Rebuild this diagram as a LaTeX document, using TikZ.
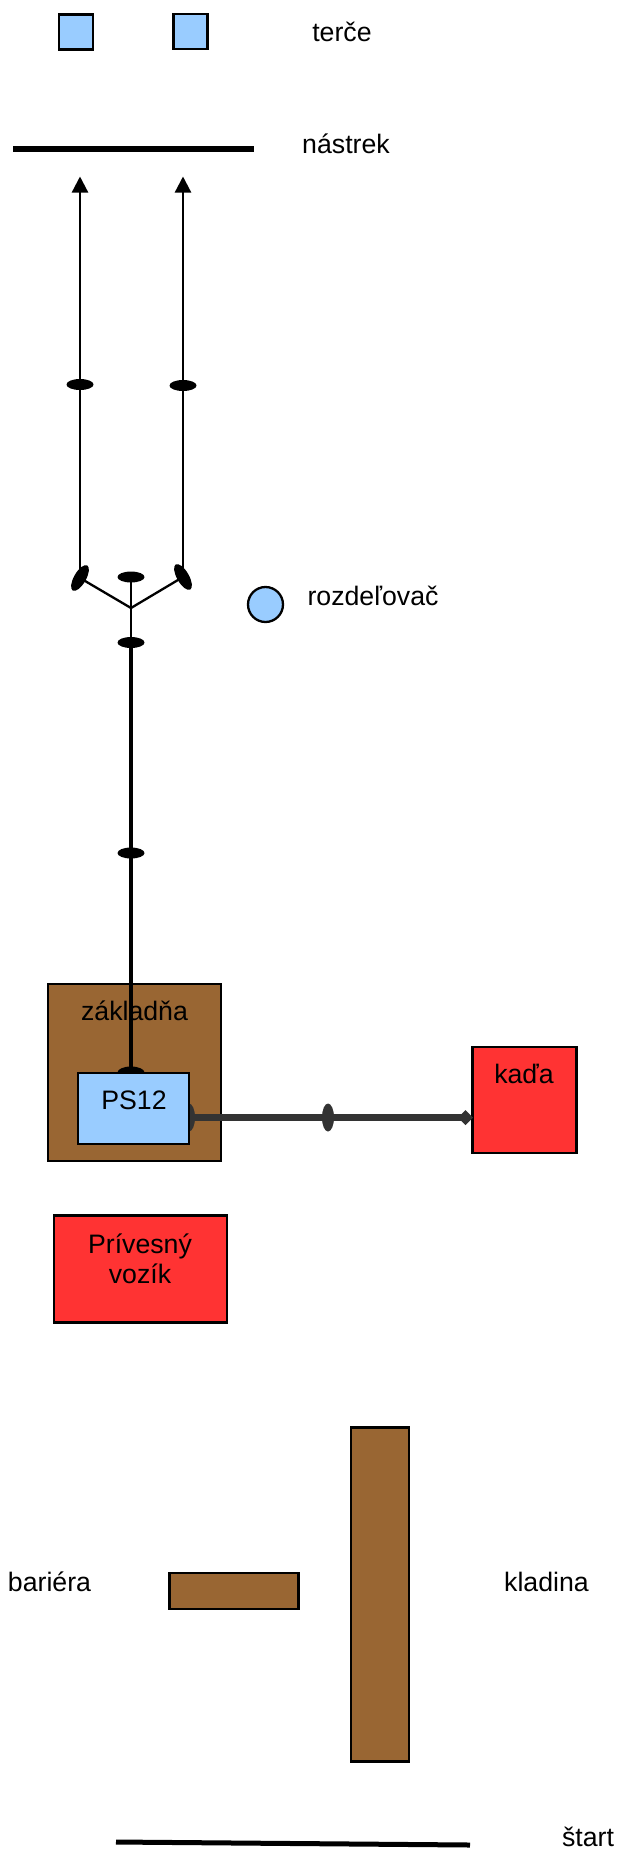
\documentclass[tikz,border=0pt]{standalone}
\usepackage{fontspec}
\setmainfont{Liberation Sans}
\usetikzlibrary{arrows.meta,shapes.geometric}
\definecolor{blueF}{HTML}{99CCFF}
\definecolor{brownF}{HTML}{996633}
\definecolor{redF}{HTML}{FF3333}
\definecolor{darkL}{HTML}{333333}
\tikzset{
  x=1pt,y=-1pt,
  box/.style={draw=black,line width=2.3pt,inner sep=0pt,outer sep=0pt,rectangle},
  lbl/.style={inner sep=0pt,anchor=base,font=\fontsize{26.7}{30}\selectfont,text=black},
  knob/.style={ellipse,fill=black,draw=none,inner sep=0pt,outer sep=0pt,minimum width=27pt,minimum height=11pt},
  knobtilt/.style={knob,minimum width=29pt,minimum height=12pt},
  knobv/.style={ellipse,fill=darkL,draw=none,inner sep=0pt,outer sep=0pt,minimum width=12pt,minimum height=28pt},
  wire/.style={draw=black,line width=2.3pt},
  thick wire/.style={draw=black,line width=4pt},
  heavy/.style={draw=darkL,line width=7pt},
  arrowed/.style={wire,-{Triangle[length=16pt,width=16pt]}}
}
\begin{document}
\begin{tikzpicture}
\useasboundingbox (0,0) rectangle (618,1850);
% targets
\node[box,fill=blueF,minimum width=34pt,minimum height=35pt] (t1) at (76,32) {};
\node[box,fill=blueF,minimum width=34pt,minimum height=35pt] (t2) at (190.5,31.5) {};
\node[lbl] (lt) at (342,41) {terče};
% spray bar
\coordinate (n1) at (13,149);
\coordinate (n2) at (254,149);
\draw[draw=black,line width=6pt] (n1) -- (n2);
\node[lbl] (ln) at (346,153) {nástrek};
% tips
\coordinate (a1) at (80,176.5);
\coordinate (a2) at (183,176.5);
% distributor knobs
\node[knob] (e1) at (80,384.5) {};
\node[knob] (e2) at (183,385.5) {};
\node[knobtilt,rotate=60] (e3) at (80,578) {};
\node[knobtilt,rotate=-60] (e4) at (183,577) {};
\node[knob] (e5) at (131,577) {};
\node[knob] (e6) at (131,642.5) {};
\node[knob] (e7) at (131,853) {};
\coordinate (j) at (131,608);
\draw[arrowed] (e3.center) -- (e1.center) -- (a1);
\draw[arrowed] (e4.center) -- (e2.center) -- (a2);
\draw[wire] (e3.center) -- (j) -- (e4.center);
\draw[wire] (e5.center) -- (j) -- (e6.center);
% distributor
\node[box,circle,fill=blueF,minimum size=35pt] (rz) at (265.5,604.5) {};
\node[lbl] (lr) at (373,605) {rozdeľovač};
% base
\node[box,fill=brownF,minimum width=173pt,minimum height=177pt] (base) at (134.5,1072.5) {};
\node[lbl] (lz) at (134.5,1020) {základňa};
% kada
\node[box,fill=redF,minimum width=104pt,minimum height=106pt] (kada) at (524.5,1100) {};
\node[lbl] (lk) at (524,1083) {kaďa};
% pumps and hoses
\node[knob,minimum height=12pt] (e8) at (131,1072.5) {};
\draw[thick wire] (e6.center) -- (e7.center) -- (e8.center);
\node[knobv] (e9) at (189,1117.5) {};
\node[knobv] (e10) at (328,1117.5) {};
\node[diamond,fill=darkL,inner sep=0pt,outer sep=0pt,minimum width=15pt,minimum height=15pt] (d1) at (465.5,1117.5) {};
\draw[heavy] (e9.center) -- (e10.center) -- (d1.center);
\node[box,fill=blueF,minimum width=111pt,minimum height=71pt] (ps) at (133.5,1108.5) {};
\node[lbl] (lp) at (134,1109) {PS12};
% trailer
\node[box,fill=redF,minimum width=173pt,minimum height=107pt] (voz) at (140.5,1269) {};
\node[lbl,anchor=center,align=center] (lv) at (140,1259) {Prívesný\\vozík};
% barriers
\node[box,fill=brownF,minimum width=129pt,minimum height=36pt] (bar) at (234,1591) {};
\node[box,fill=brownF,minimum width=58pt,minimum height=334pt] (kl) at (380,1594.5) {};
\node[lbl] (lb) at (49.5,1591) {bariéra};
\node[lbl] (lkl) at (546.5,1591) {kladina};
% start
\coordinate (s1) at (116,1842);
\coordinate (s2) at (470,1845);
\draw[draw=black,line width=5pt] (s1) -- (s2);
\node[lbl] (ls) at (588,1846) {štart};
\end{tikzpicture}
\end{document}
